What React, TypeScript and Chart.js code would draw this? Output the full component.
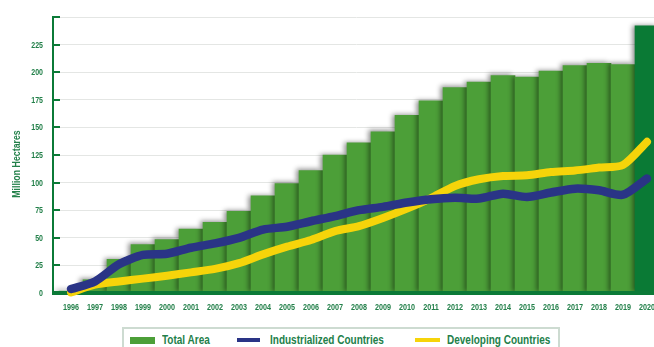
import React, { useEffect, useRef } from 'react';
import { Chart, registerables } from 'chart.js';

Chart.register(...registerables);

// Biotech crop area, million hectares
const years = [
  1996, 1997, 1998, 1999, 2000, 2001, 2002, 2003, 2004, 2005, 2006, 2007, 2008,
  2009, 2010, 2011, 2012, 2013, 2014, 2015, 2016, 2017, 2018, 2019, 2020,
];
const totalArea = [
  1.7, 12, 30.5, 43.8, 48.5, 58, 64, 74, 88, 99, 111, 125, 136, 146, 161, 174,
  186, 191, 197, 195.5, 201, 206, 208, 207, 242,
];
const industrialized = [
  3.6, 10.5, 26, 34.5, 35.5, 41, 45, 50, 57.5, 60, 65, 69.7, 75, 78, 82, 85,
  86.3, 85.5, 90, 87, 91, 94.5, 93, 89, 103.6,
];
const developing = [
  0.5, 7.5, 10.5, 13, 15.7, 18.7, 21.8, 27, 35, 42, 48, 56, 60.6, 68, 76.4, 86,
  97, 103, 106, 106.6, 109.6, 111, 113.6, 116, 137,
];
const yTickValues = [0, 25, 50, 75, 100, 125, 150, 175, 200, 225, 250];
const yTickLabels = ['0', '25', '50', '75', '100', '125', '150', '175', '200', '225', ''];
const seriesNames = ['Total Area', 'Industrialized Countries', 'Developing Countries'];
const yTitle = 'Million Hectares';

const FONT = "'Liberation Sans', Arial, sans-serif";
const TEXT_GREEN = '#23804a';
const AXIS_GREEN = '#0b7a37';
const BAR_GREEN = '#4c9f38';
const BAR_DARK = '#0a7a35';
const NAVY = '#2a3486';
const YELLOW = '#f6d40a';

// Condensed bold text: a regular sans face squeezed horizontally
function drawNarrowText(
  ctx: CanvasRenderingContext2D,
  text: string,
  x: number,
  y: number,
  size: number,
  squeeze: number,
  align: CanvasTextAlign,
  angle = 0,
) {
  ctx.save();
  ctx.translate(x, y);
  if (angle) ctx.rotate(angle);
  ctx.scale(squeeze, 1);
  ctx.font = `bold ${size}px ${FONT}`;
  ctx.fillStyle = TEXT_GREEN;
  ctx.textAlign = align;
  ctx.textBaseline = 'middle';
  ctx.fillText(text, 0, 0);
  ctx.restore();
}

const decorPlugin = {
  id: 'decor',
  beforeDatasetDraw(chart: any, args: any) {
    if (args.index !== 0) return;
    const ctx = chart.ctx;
    ctx.save();
    ctx.shadowColor = 'rgba(0,0,0,0.45)';
    ctx.shadowBlur = 5;
    ctx.shadowOffsetX = -3;
    ctx.shadowOffsetY = -1;
  },
  afterDatasetDraw(chart: any, args: any) {
    if (args.index !== 0) return;
    const ctx = chart.ctx;
    ctx.restore();
    const { left, right, bottom } = chart.chartArea;
    ctx.save();
    ctx.fillStyle = AXIS_GREEN;
    ctx.fillRect(left - 1, bottom - 2, right - left + 1, 4);
    ctx.restore();
  },
  afterDraw(chart: any) {
    const ctx = chart.ctx as CanvasRenderingContext2D;
    const { left, bottom } = chart.chartArea;
    const xs = chart.scales.x;
    const ys = chart.scales.y;
    ctx.save();
    ctx.strokeStyle = AXIS_GREEN;
    ctx.lineWidth = 2;
    yTickValues.forEach((v, i) => {
      const py = Math.round(ys.getPixelForValue(v));
      if (v !== 0) {
        ctx.beginPath();
        ctx.moveTo(left, py);
        ctx.lineTo(left + 7, py);
        ctx.stroke();
      }
      if (yTickLabels[i]) drawNarrowText(ctx, yTickLabels[i], left - 10, py, 9.5, 0.74, 'right');
    });
    years.forEach((yr) => {
      drawNarrowText(ctx, String(yr), xs.getPixelForValue(yr), bottom + 14, 9.5, 0.76, 'center');
    });
    drawNarrowText(ctx, yTitle, 17, 164, 11, 0.8, 'center', -Math.PI / 2);
    ctx.restore();
  },
};

export default function App() {
  const canvasRef = useRef<HTMLCanvasElement | null>(null);

  useEffect(() => {
    const canvas = canvasRef.current;
    if (!canvas) return;
    const chart = new Chart(canvas, {
      type: 'bar',
      data: {
        datasets: [
          {
            type: 'bar',
            label: seriesNames[0],
            data: years.map((x, i) => ({ x, y: totalArea[i] })),
            backgroundColor: years.map((yr) => (yr === 2020 ? BAR_DARK : BAR_GREEN)),
            borderWidth: 0,
            barPercentage: 1,
            categoryPercentage: 1,
            order: 3,
          },
          {
            type: 'line',
            label: seriesNames[2],
            data: years.map((x, i) => ({ x, y: developing[i] })),
            borderColor: YELLOW,
            borderWidth: 8,
            borderCapStyle: 'round',
            borderJoinStyle: 'round',
            pointRadius: 0,
            tension: 0.25,
            clip: false,
            order: 2,
          },
          {
            type: 'line',
            label: seriesNames[1],
            data: years.map((x, i) => ({ x, y: industrialized[i] })),
            borderColor: NAVY,
            borderWidth: 8.5,
            borderCapStyle: 'round',
            borderJoinStyle: 'round',
            pointRadius: 0,
            tension: 0.25,
            clip: false,
            order: 1,
          },
        ],
      } as any,
      options: {
        responsive: false,
        animation: false,
        devicePixelRatio: 1,
        layout: { padding: { top: 17, right: 1, bottom: 0, left: 0 } },
        plugins: { legend: { display: false }, tooltip: { enabled: false } },
        scales: {
          x: {
            type: 'linear',
            min: 1995.25,
            max: 2020.5,
            offset: false,
            grid: { display: false },
            border: { display: false },
            ticks: { display: false, stepSize: 1 },
            afterFit: (s: any) => {
              s.height = 54;
              s.paddingLeft = 0;
              s.paddingRight = 0;
            },
          },
          y: {
            min: 0,
            max: 250,
            grid: { color: '#e4e6e4', drawTicks: false },
            border: { display: true, color: AXIS_GREEN, width: 2 },
            ticks: { display: false, stepSize: 25 },
            afterFit: (s: any) => {
              s.width = 53;
            },
          },
        },
      } as any,
      plugins: [decorPlugin],
    });
    return () => chart.destroy();
  }, []);

  const textStyle: React.CSSProperties = {
    position: 'absolute',
    top: 333,
    fontFamily: FONT,
    fontWeight: 'bold',
    fontSize: 12.5,
    lineHeight: '14px',
    color: TEXT_GREEN,
    whiteSpace: 'nowrap',
    display: 'inline-block',
    transform: 'scaleX(0.8)',
    transformOrigin: 'left center',
  };
  const swatch = (left: number, top: number, w: number, h: number, bg: string): React.CSSProperties => ({
    position: 'absolute',
    left,
    top,
    width: w,
    height: h,
    background: bg,
  });

  return (
    <div
      style={{
        position: 'fixed',
        left: 0,
        top: 0,
        width: 654,
        height: 347,
        overflow: 'hidden',
        background: '#ffffff',
      }}
    >
      <canvas
        ref={canvasRef}
        width={660}
        height={347}
        style={{ position: 'absolute', left: 0, top: 0, width: 660, height: 347 }}
      />
      <div
        style={{
          position: 'absolute',
          left: 122,
          top: 327,
          width: 434,
          height: 40,
          border: '2px solid #cddbd1',
          background: '#ffffff',
        }}
      />
      <div style={swatch(130, 337, 25, 7, BAR_GREEN)} />
      <div style={{ ...textStyle, left: 162 }}>{seriesNames[0]}</div>
      <div style={swatch(237, 338, 23, 4, NAVY)} />
      <div style={{ ...textStyle, left: 270 }}>{seriesNames[1]}</div>
      <div style={swatch(415, 338, 25, 4, YELLOW)} />
      <div style={{ ...textStyle, left: 447 }}>{seriesNames[2]}</div>
    </div>
  );
}
